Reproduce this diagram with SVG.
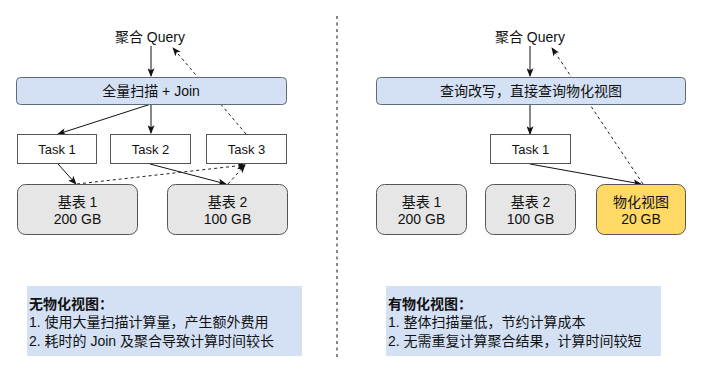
<svg xmlns="http://www.w3.org/2000/svg" width="702" height="374" viewBox="0 0 702 374">
<defs>
<style>
text{font-family:"Liberation Sans","Noto Sans CJK SC",sans-serif;fill:#111;}
.t14{font-size:14px;text-anchor:middle;}
.t13{font-size:13px;text-anchor:middle;}
.note{font-size:14px;}
.b{font-weight:bold;}
.bar{fill:#d4e1f5;stroke:#5f6b7a;stroke-width:1;}
.task{fill:#fff;stroke:#555;stroke-width:1;}
.tbl{fill:#e6e6e6;stroke:#555;stroke-width:1;}
.mv{fill:#ffd966;stroke:#555;stroke-width:1;}
.notebg{fill:#d4e1f5;stroke:none;}
.c{stroke:#111;stroke-width:1;fill:none;marker-end:url(#ah);}
.d{stroke:#222;stroke-width:1;fill:none;stroke-dasharray:3 3;marker-end:url(#ah);}
.dv{stroke:#111;stroke-width:1;stroke-dasharray:3 3.5;}
</style>
<marker id="ah" viewBox="0 0 10 8" refX="9" refY="4" markerWidth="9" markerHeight="7" markerUnits="userSpaceOnUse" orient="auto">
<path d="M0,0 L10,4 L0,8 L2.5,4 Z" fill="#111"/>
</marker>
</defs>
<rect width="702" height="374" fill="#fff"/>
<line class="dv" x1="337" y1="16" x2="337" y2="358"/>
<g id="connectors">
<line class="c" x1="151" y1="46" x2="151" y2="76"/>
<line class="c" x1="151" y1="104" x2="151" y2="133"/>
<line class="c" x1="151" y1="104" x2="58" y2="134"/>
<line class="d" x1="246" y1="134" x2="173" y2="48"/>
<line class="c" x1="58" y1="164" x2="76" y2="184"/>
<line class="c" x1="150" y1="164" x2="226" y2="184"/>
<line class="d" x1="77" y1="184" x2="245" y2="165"/>
<line class="d" x1="228" y1="184" x2="245" y2="165"/>
<line class="c" x1="530" y1="46" x2="530" y2="76"/>
<line class="c" x1="530" y1="104" x2="530" y2="134"/>
<line class="c" x1="530" y1="164" x2="641" y2="184"/>
<line class="d" x1="643" y1="184" x2="552" y2="48"/>
</g>
<g id="query-left"><text class="t14" x="150" y="42">聚合 Query</text></g>
<g id="scan-join"><rect class="bar" x="16.5" y="77.5" width="270" height="27" rx="4"/><text class="t14" x="151" y="96">全量扫描 + Join</text></g>
<g id="task1-left"><rect class="task" x="17.5" y="134.5" width="79" height="29"/><text class="t13" x="57" y="154">Task 1</text></g>
<g id="task2-left"><rect class="task" x="110.5" y="134.5" width="80" height="29"/><text class="t13" x="150.5" y="154">Task 2</text></g>
<g id="task3-left"><rect class="task" x="206.5" y="134.5" width="80" height="29"/><text class="t13" x="246.5" y="154">Task 3</text></g>
<g id="base1-left"><rect class="tbl" x="17.5" y="184.5" width="120" height="50" rx="8"/><text class="t14" x="77.5" y="207">基表 1</text><text class="t14" x="77.5" y="224">200 GB</text></g>
<g id="base2-left"><rect class="tbl" x="167.5" y="184.5" width="120" height="50" rx="8"/><text class="t14" x="227.5" y="207">基表 2</text><text class="t14" x="227.5" y="224">100 GB</text></g>
<g id="note-left"><rect class="notebg" x="27" y="286" width="275" height="70"/><text class="note b" x="29" y="309">无物化视图：</text><text class="note" x="29" y="327">1. 使用大量扫描计算量，产生额外费用</text><text class="note" x="29" y="346">2. 耗时的 Join 及聚合导致计算时间较长</text></g>
<g id="query-right"><text class="t14" x="530" y="42">聚合 Query</text></g>
<g id="rewrite"><rect class="bar" x="376.5" y="77.5" width="309" height="27" rx="4"/><text class="t14" x="531" y="96">查询改写，直接查询物化视图</text></g>
<g id="task1-right"><rect class="task" x="490.5" y="134.5" width="80" height="29"/><text class="t13" x="530.5" y="154">Task 1</text></g>
<g id="base1-right"><rect class="tbl" x="376.5" y="184.5" width="90" height="50" rx="8"/><text class="t14" x="421.5" y="207">基表 1</text><text class="t14" x="421.5" y="224">200 GB</text></g>
<g id="base2-right"><rect class="tbl" x="485.5" y="184.5" width="90" height="50" rx="8"/><text class="t14" x="530.5" y="207">基表 2</text><text class="t14" x="530.5" y="224">100 GB</text></g>
<g id="mview"><rect class="mv" x="596.5" y="184.5" width="89" height="50" rx="8"/><text class="t14" x="641" y="207">物化视图</text><text class="t14" x="641" y="224">20 GB</text></g>
<g id="note-right"><rect class="notebg" x="386" y="286" width="275" height="70"/><text class="note b" x="388" y="309">有物化视图：</text><text class="note" x="388" y="327">1. 整体扫描量低，节约计算成本</text><text class="note" x="388" y="346">2. 无需重复计算聚合结果，计算时间较短</text></g>
</svg>
